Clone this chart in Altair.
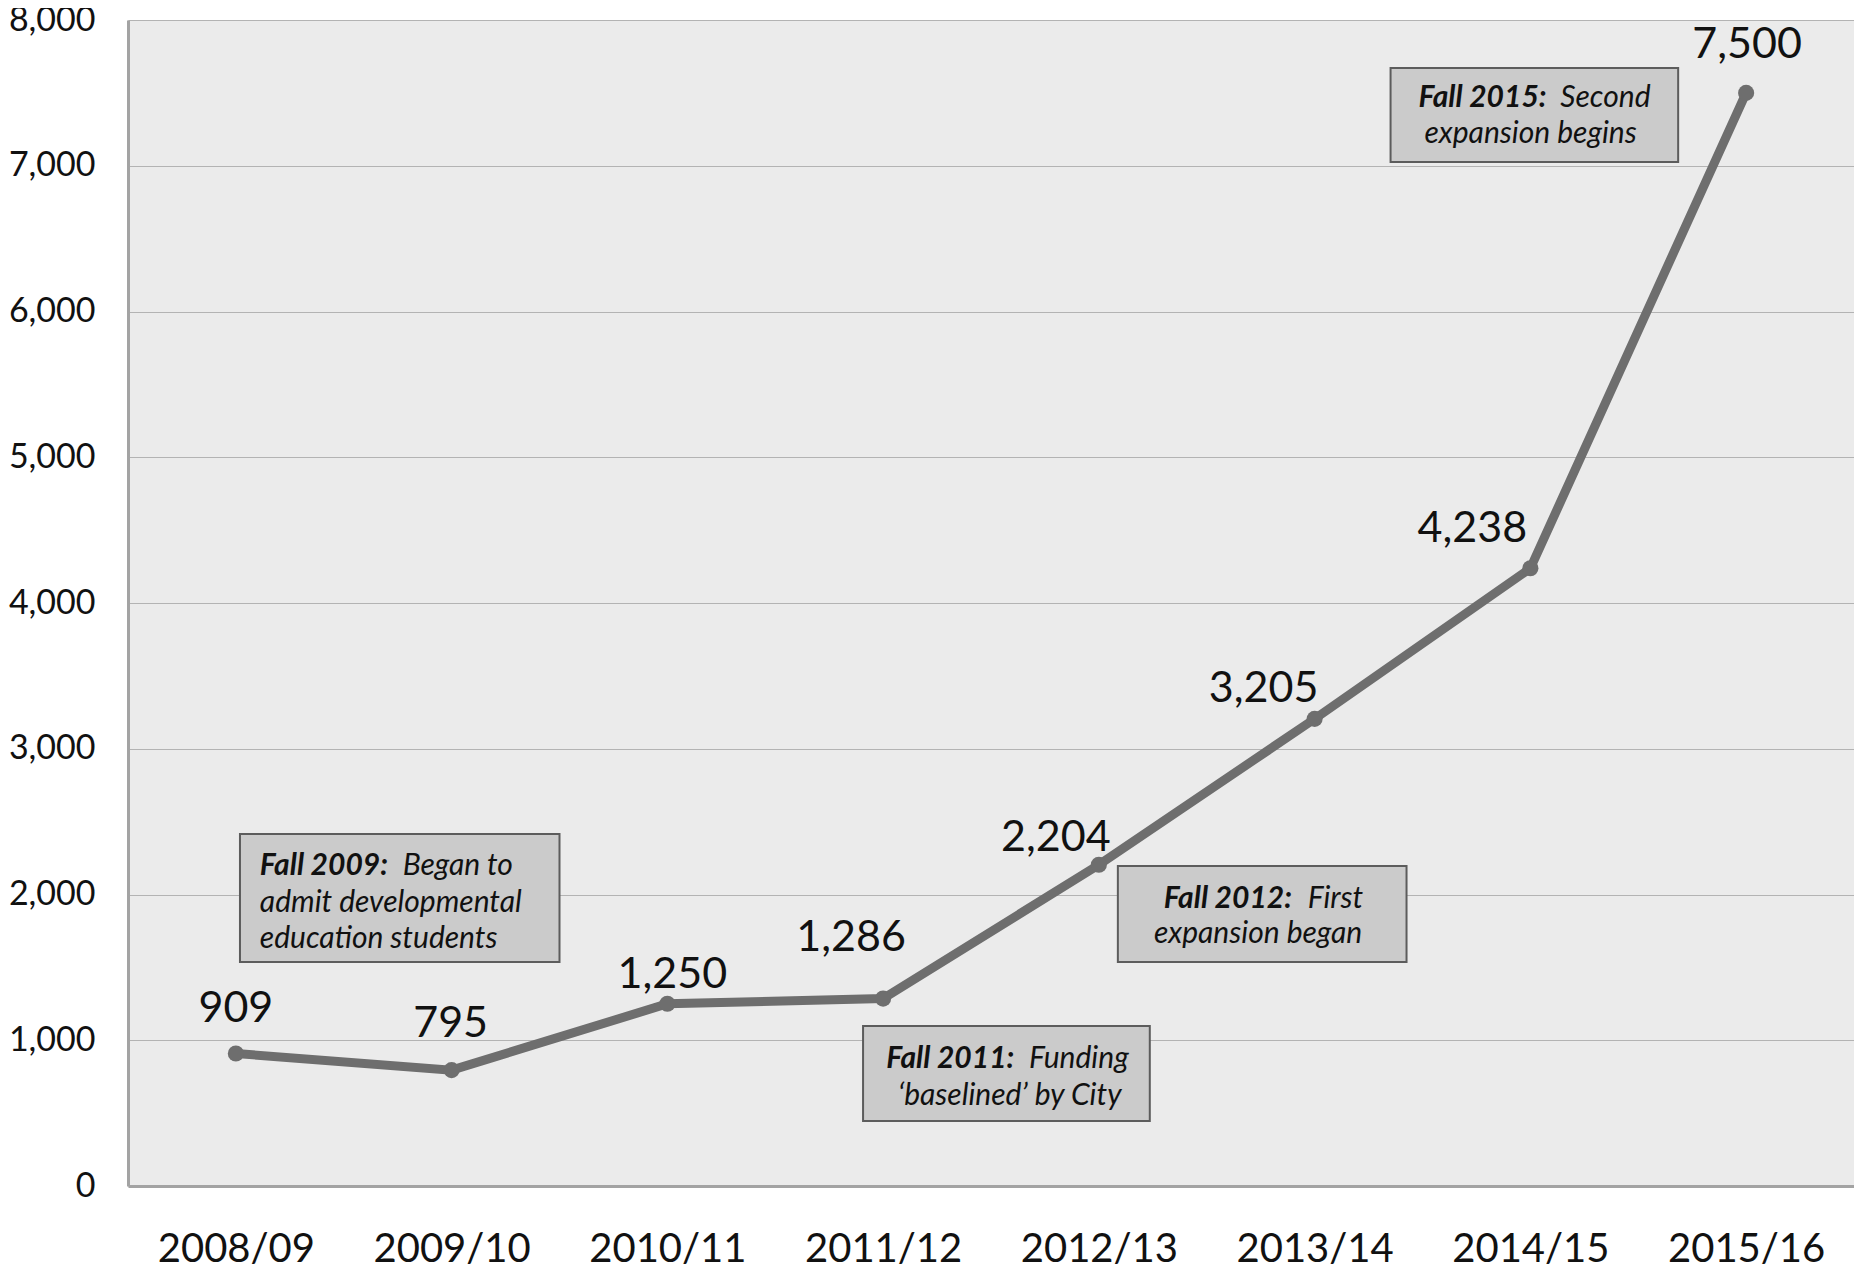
import altair as alt
import pandas as pd

# ---- data ----
seasons = ["2008/09", "2009/10", "2010/11", "2011/12", "2012/13", "2013/14", "2014/15", "2015/16"]
enrollment = [909, 795, 1250, 1286, 2204, 3205, 4238, 7500]
y_ticks = [0, 1000, 2000, 3000, 4000, 5000, 6000, 7000, 8000]

# label offsets (pixels) for each value label relative to its point
label_dx = [0, -1, 5, -32, -43, -51, -58, 1]
label_dy = [-45, -46, -29, -61, -27, -30, -39, -48]

# annotation boxes, in data units (x: category-step units, y: enrollment)
box_x1 = [0.519, 3.407, 4.588, 5.852]
box_x2 = [2.000, 4.736, 5.926, 7.185]
box_y1 = [2415, 1098, 2196, 7671]
box_y2 = [1537, 446, 1537, 7026]

# annotation texts
bold_text = ["Fall 2009:", "Fall 2011:", "Fall 2012:", "Fall 2015:"]
bold_x = [0.611, 3.514, 4.801, 5.981]
bold_y = [2134, 810, 1907, 7403]

plain_text = ["Began to", "admit developmental", "education students",
              "Funding", "\u2018baselined\u2019 by City",
              "First", "expansion began",
              "Second", "expansion begins"]
plain_x = [1.273, 0.611, 0.611, 4.176, 3.569, 5.468, 4.755, 6.639, 6.009]
plain_y = [2134, 1880, 1633, 810, 556, 1907, 1667, 7403, 7156]

df = pd.DataFrame({"season": seasons, "enrollment": enrollment})
df["label"] = [f"{v:,}" for v in enrollment]
box_df = pd.DataFrame({"x1": box_x1, "x2": box_x2, "enrollment": box_y1, "y2": box_y2})
bold_df = pd.DataFrame({"t": bold_text, "x": bold_x, "enrollment": bold_y})
plain_df = pd.DataFrame({"t": plain_text, "x": plain_x, "enrollment": plain_y})

LINE = "#6e6e6e"
FONT = "Lato"

xaxis = alt.Axis(title=None, labelAngle=0, labelFontSize=40, labelColor="#111111",
                 labelPadding=43, tickSize=0, domainColor="#a3a3a3", domainWidth=3,
                 grid=False, labelFont=FONT)
yaxis = alt.Axis(title=None, values=y_ticks, format=",.0f", labelFontSize=34,
                 labelColor="#111111", labelPadding=33, tickSize=0,
                 domainColor="#a3a3a3", domainWidth=3, grid=True,
                 gridColor="#b3b3b3", gridWidth=1.2, labelFont=FONT)
yscale = alt.Scale(domain=[0, 8000], nice=False)

xenc = alt.X("season:N", sort=seasons, scale=alt.Scale(type="point", padding=0.5), axis=xaxis)
yenc = alt.Y("enrollment:Q", scale=yscale, axis=yaxis)

base = alt.Chart(df)
line = base.mark_line(color=LINE, strokeWidth=9).encode(x=xenc, y=yenc)
points = base.mark_point(filled=True, size=260, opacity=1, color=LINE).encode(x=xenc, y=yenc)

labels = []
for s, dx, dy in zip(seasons, label_dx, label_dy):
    labels.append(
        base.transform_filter(alt.datum.season == s)
        .mark_text(dx=dx, dy=dy, fontSize=43, font=FONT, color="#111111",
                   align="center", baseline="middle")
        .encode(x=xenc, y=yenc, text="label:N")
    )

main = alt.layer(line, points, *labels)

xq = alt.Scale(domain=[0, 8], nice=False, zero=False)
boxes = alt.Chart(box_df).mark_rect(fill="#cbcbcb", stroke="#5c5c5c", strokeWidth=2).encode(
    x=alt.X("x1:Q", scale=xq, axis=None), x2="x2",
    y=alt.Y("enrollment:Q", scale=yscale, axis=yaxis), y2="y2")
bold = alt.Chart(bold_df).mark_text(align="left", baseline="alphabetic", fontSize=30,
                                    font=FONT, fontStyle="italic", fontWeight="bold",
                                    color="#111111").encode(
    x=alt.X("x:Q", scale=xq, axis=None), y=yenc, text="t:N")
plain = alt.Chart(plain_df).mark_text(align="left", baseline="alphabetic", fontSize=30,
                                      font=FONT, fontStyle="italic", color="#111111").encode(
    x=alt.X("x:Q", scale=xq, axis=None), y=yenc, text="t:N")
annots = alt.layer(boxes, bold, plain)

chart = (
    alt.layer(main, annots)
    .resolve_scale(x="independent")
    .properties(width=1726, height=1166, autosize="none", background="white",
                padding={"left": 120, "top": 12, "right": 0, "bottom": 84})
    .configure_view(fill="#ebebeb", stroke=None)
)

chart.save("out.html", embed_options={"renderer": "svg", "actions": False})
